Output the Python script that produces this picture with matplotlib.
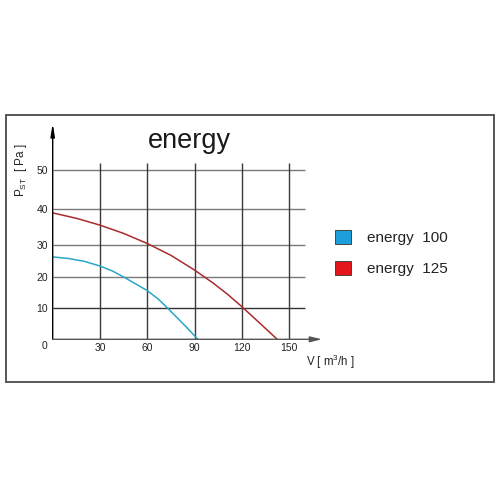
import numpy as np
import matplotlib
matplotlib.use("Agg")
import matplotlib.pyplot as plt
from matplotlib.patches import Rectangle, Patch

plt.rcParams['font.family'] = ['Liberation Sans', 'DejaVu Sans']
plt.rcParams['mathtext.fontset'] = 'custom'
plt.rcParams['mathtext.rm'] = 'Liberation Sans'
plt.rcParams['mathtext.it'] = 'Liberation Sans'

# ---- data ----
title = "energy"
series_names = ["energy  100", "energy  125"]
v_100 = [0, 10, 20, 30, 38, 45, 52, 60, 67, 73, 80, 86, 92]
p_100 = [26.3, 25.8, 24.9, 23.4, 21.8, 19.9, 17.9, 15.6, 12.9, 10.0, 6.4, 3.3, 0.0]
v_125 = [0, 15, 30, 45, 60, 75, 90, 102, 111, 120, 132, 142.4]
p_125 = [39.0, 37.5, 35.6, 33.3, 30.5, 26.8, 22.1, 17.9, 14.4, 10.5, 4.9, 0.0]
x_ticks = [30, 60, 90, 120, 150]
y_ticks = [10, 20, 30, 40, 50]
x_label = "V [ m$^{3}$/h ]"
y_label = "P$_{\\mathrm{ST}}$  [ Pa ]"

curve_colors = ["#2aa6c6", "#a82c2c"]
legend_colors = ["#1e9fdc", "#e3161e"]

# non-uniform vertical scale of the original drawing
scale_vals = [0, 10, 20, 30, 40, 50, 70]
scale_pos = [0, 31, 62.6, 94, 130, 169.3, 247.3]
fwd = lambda v: np.interp(v, scale_vals, scale_pos)
inv = lambda p: np.interp(p, scale_pos, scale_vals)

W = H = 496
fig = plt.figure(figsize=(4.96, 4.96), dpi=100)
fig.patch.set_facecolor("white")

# outer frame
fig.patches.append(Rectangle((6 / W, 1 - 382 / H), 488 / W, 267 / H,
                             transform=fig.transFigure, fill=False,
                             edgecolor="#4a4a4a", lw=1.3))

ax = fig.add_axes([52.7 / W, 1 - 339.3 / H, 269.3 / W, 216.1 / H])
ax.set_yscale("function", functions=(fwd, inv))
ax.set_xlim(0, 170.8)
ax.set_ylim(0, 62)
for s in ax.spines.values():
    s.set_visible(False)
ax.patch.set_alpha(0)

# grid
ax.hlines(y_ticks, 0, 160, colors=["#333333", "#7a7a7a", "#7a7a7a", "#7a7a7a", "#7a7a7a"], lw=1.0, zorder=1)
ax.vlines(x_ticks, 0, 51.7, colors="#3a3a3a", lw=1.0, zorder=1)

# curves
ax.plot(v_100, p_100, color=curve_colors[0], lw=1.1, zorder=3)
ax.plot(v_125, p_125, color=curve_colors[1], lw=1.1, zorder=3)

# axes arrows
ax.annotate("", xy=(0, 1), xycoords="axes fraction", xytext=(0, 0),
            arrowprops=dict(arrowstyle="-|>,head_length=0.75,head_width=0.12",
                            color="black", lw=1.0, shrinkA=0, shrinkB=0))
ax.annotate("", xy=(1, 0), xycoords="axes fraction", xytext=(0, 0),
            arrowprops=dict(arrowstyle="-|>,head_length=0.7,head_width=0.17",
                            color="#555555", lw=1.0, shrinkA=0, shrinkB=0))

ax.set_xticks(x_ticks)
ax.set_xticklabels([str(t) for t in x_ticks])
ax.set_yticks(y_ticks)
ax.set_yticklabels([str(t) for t in y_ticks])
ax.yaxis.set_minor_locator(matplotlib.ticker.NullLocator())
ax.tick_params(axis="both", length=0, labelsize=7.5, labelcolor="#222222")
ax.tick_params(axis="x", pad=2.6)
ax.tick_params(axis="y", pad=3.2)
ax.annotate("0", xy=(0, 0), xytext=(-5.8, -4.8), textcoords="offset points",
            ha="center", va="center", fontsize=7.5, color="#222222")

fig.text(189 / W, 1 - 148 / H, title, ha="center", va="baseline", fontsize=19.5, color="#1a1a1a")
fig.text(306 / W, 1 - 362 / H, x_label, ha="left", va="center", fontsize=8.3, color="#222222")
fig.text(21 / W, 1 - 170 / H, y_label, ha="center", va="center", rotation=90, fontsize=8.5, color="#222222")

handles = [Patch(facecolor=c, edgecolor="#333333", lw=0.6) for c in legend_colors]
fig.legend(handles, series_names, loc="upper left", bbox_to_anchor=(335 / W, 1 - 230 / H),
           frameon=False, fontsize=11, handlelength=1.05, handleheight=1.05,
           handletextpad=1.05, labelspacing=1.0, borderpad=0, borderaxespad=0,
           labelcolor="#222222")

fig.savefig("out.png", dpi=100)
